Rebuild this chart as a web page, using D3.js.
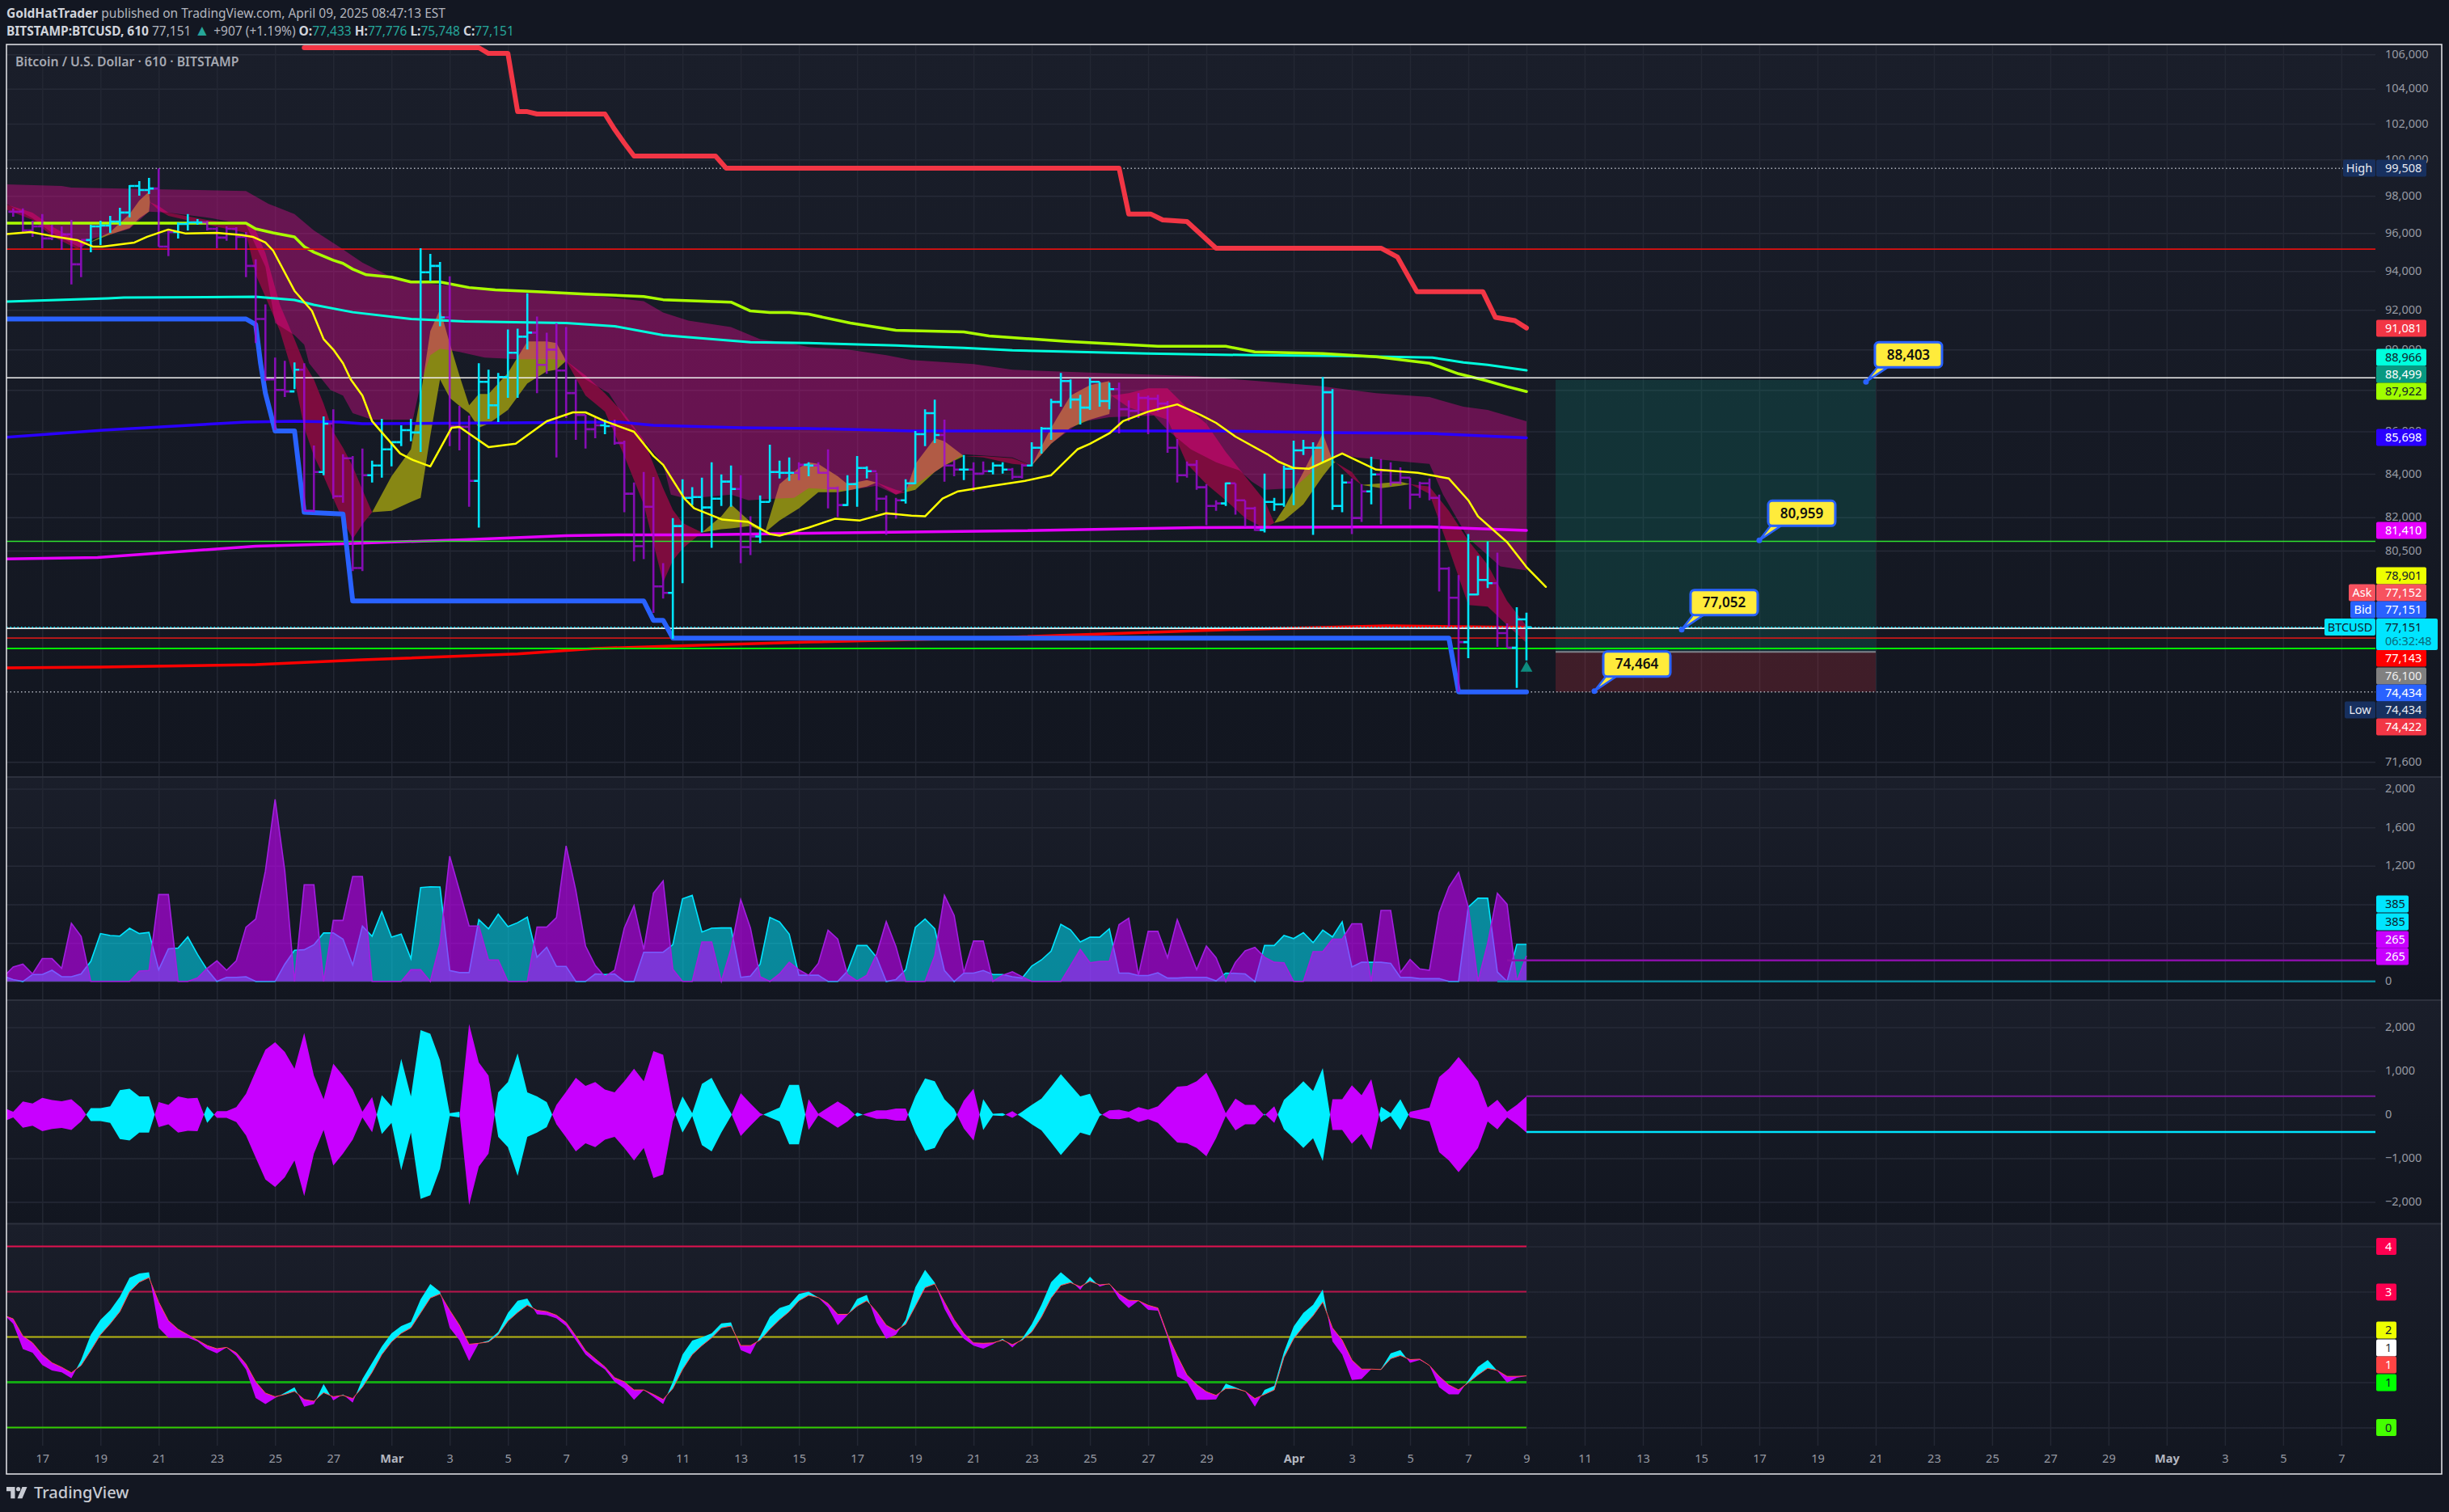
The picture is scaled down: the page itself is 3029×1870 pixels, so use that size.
<!DOCTYPE html>
<html>
<head>
<meta charset="utf-8">
<title>BTCUSD 610</title>
<script src="https://d3js.org/d3.v7.min.js"></script>
<style>
html, body { margin: 0; background: #131722; overflow: hidden; }
svg { display: block; }
text { font-family: "Noto Sans", "Open Sans", sans-serif; }
</style>
</head>
<body>
<script>
// ---- data ----
const firstBar = -3
const barHigh = [
  97320,97320,96660,97015,96445,96360,96705,95630,96445,96660,
  96925,97360,98590,98810,98985,99508,96230,96575,97015,96750,
  96660,96315,96360,96315,96060,94610,92275,89595,89435,89355,
  89315,85335,86720,87065,84920,84840,85185,84620,86605,85490,
  86295,86605,95200,94905,94480,93725,87225,86760,89315,88995,
  88835,91005,91045,92850,91655,90845,91330,91125,88520,86795,
  86680,86565,86565,85565,83600,84090,83855,79945,81970,83750,
  83380,83825,84540,83975,84390,83940,82045,83000,85375,84620,
  84765,84540,84540,84540,85150,83415,83940,84840,84350,84050,
  83000,82890,83750,86025,87065,87535,86565,84650,84880,84540,
  84580,84540,84540,84275,84465,85490,86220,87575,88835,88520,
  87770,88600,88400,88360,88360,87495,87850,87730,87770,87460,
  85640,84580,84650,83525,82780,83600,83560,82780,82485,84010,
  82890,84390,85565,85600,85490,88635,88045,83975,83785,83525,
  84800,84690,84540,84310,83825,83640,83785,83040,79770,79415,
  81245,80265,80915,80410,77315,78010,77776]
const barLow = [
  96880,96060,95800,95200,95630,95115,93310,93685,94990,95370,
  96015,96405,96840,98015,98100,95285,94780,95715,96145,96445,
  96145,95200,95590,95115,93685,90320,88440,86065,87655,88045,
  82300,82230,83940,82855,82670,79590,79590,83600,83825,84350,
  85300,85530,85030,93475,91170,85300,85105,82485,81535,86605,
  86450,87615,87615,89995,87850,88795,84765,86640,85600,85185,
  85680,85870,85375,82230,80020,80125,77765,78390,76660,79060,
  82560,81315,80625,82520,82485,79945,80300,80845,82705,83785,
  83675,83710,83895,84010,82410,82010,82520,82485,83785,82300,
  81205,81935,82635,83525,85300,85450,83640,83895,83710,83190,
  83975,83975,84010,83750,83785,84350,84955,85600,87185,87105,
  86335,87030,87185,87065,85910,86490,86640,85870,86950,84990,
  83600,83825,83265,81645,82300,82520,82120,81570,81390,81315,
  82300,82485,82560,84880,81205,84540,82340,82230,81245,81790,
  82595,81680,83450,83525,82375,82890,82780,78700,77175,74434,
  75840,78530,78850,76315,76280,74600,75748]
const barClose = [
  97145,96145,96360,95715,95800,95930,94355,95630,96360,96400,
  96620,97100,98545,98320,98405,95285,96060,96490,96575,96575,
  96230,95760,96230,95800,94270,91535,88520,88005,87930,88995,
  82300,84090,86370,82965,84730,79730,83940,84390,85150,85490,
  86065,85950,93935,94270,91615,86255,86220,83675,88400,87260,
  88635,89835,90640,90845,89235,89995,88955,87850,86795,86105,
  86295,86255,85450,83080,80700,82485,78920,78635,81605,82890,
  82930,82450,82855,83640,83300,80660,81135,82705,84090,84050,
  84050,84425,84390,84050,83340,82560,83525,84275,84125,82855,
  82155,82780,83560,85870,86875,85830,84390,84200,84200,84010,
  84125,84390,84200,83860,84390,85225,86140,87420,88440,87535,
  87145,88400,87460,88045,87065,86990,87615,87575,87340,85225,
  83940,84425,83380,82520,82635,83560,82780,82410,81425,82705,
  82595,84240,85105,85225,85225,87890,82520,83600,81970,83190,
  83975,84160,83600,83825,83040,83560,82890,79700,78425,76520,
  78565,79200,79060,76900,76280,77490,77151]
const upBars = [5,6,7,8,9,10,11,14,15,16,26,29,34,35,36,37,38,39,40,41,45,46,47,48,49,50,58,
  65,66,67,68,69,70,71,74,75,76,77,79,83,84,85,89,90,91,92,95,98,99,
  102,103,104,105,106,107,108,109,110,122,126,127,128,129,130,131,132,133,134,137,147,148,149,152,153]

// stepped stops
const stopRedBars = [27,45,46,48,49,50,51,58,59,60,61,69.4,70.5,111,112,114.3,115.5,118,121,138,139.7,141.7,148.5,149.8,151.8,153]
const stopRedValues = [106395,106395,106060,106060,102690,102690,102555,102555,101680,100910,100190,100190,99520,99520,97015,97015,96705,96620,95200,95200,94735,92935,92935,91615,91450,91081]
const stopBlueBars = [-4,21,22,22.5,23,24,26,27,31,32,62,63,64,65,145,146,153]
const stopBlueValues = [91535,91535,91250,89315,87850,86025,86025,82230,82150,78285,78285,77450,77450,76690,76690,74434,74434]

// moving averages
const limeBars = [-4,21,22,23.8,26,27,28,29,30,31,32,33.4,36,38,41,44,46.7,51,56,62,64,71,73,75,77,79,83.3,88,95,97.6,105.6,115,122,125,132,137.5,143,146,148.7,151,153]
const limeValues = [96530,96530,96230,96015,95800,95285,94990,94780,94565,94400,94100,93810,93685,93435,93435,93145,93020,92935,92810,92685,92520,92395,91945,91860,91860,91780,91330,90965,90885,90680,90400,90160,90160,89875,89795,89635,89315,88795,88480,88165,87922]
const tealBars = [-4,6.8,8.4,22,26,28,32,38,43.5,54,59,64,73,79,88,90,95,100,114,125,134,143.3,146.5,149,153]
const tealValues = [92420,92590,92630,92670,92505,92255,91880,91535,91410,91330,91170,90720,90360,90320,90200,90160,90080,89955,89795,89715,89675,89595,89355,89235,88966]
const indigoBars = [-4,6.3,21,26,30.7,33,59.5,63,72,79,89.6,111,121.5,132,143,153]
const indigoValues = [85715,86065,86450,86490,86450,86370,86450,86295,86180,86140,86025,86025,86025,85950,85910,85698]
const magentaBars = [-4,5.7,22,31,43.5,54,59.5,67.5,79,100,119,143,153]
const magentaValues = [80125,80195,80700,80810,80990,81170,81205,81205,81280,81390,81535,81570,81410]
const redMaBars = [-4,6,22,33,49,57,65,79,100,121,138.6,153]
const redMaValues = [75430,75465,75570,75775,76015,76250,76350,76520,76730,77035,77210,77143]
const yellowBars = [-4,-1.2,1,3.6,5.2,6.2,9.5,10.8,13,14.8,18,20.6,21.7,23,23.8,26,27.8,29,30,31,31.8,33,34,35.3,36.9,38.2,40,42.2,43,46,48.8,52,54.7,56,58,61,63,64,66.2,67.2,70.1,72.8,75,76,79,
  81.7,84.3,87,89.6,91,92.8,94.4,98,101.3,104,106.7,108,110,111.4,114,117,119.4,121,123,126.3,127.4,129,130.6,134,135.4,137.5,141.8,145,147,148,151,153,155]
const yellowValues = [95930,96060,95845,95630,95285,95285,95500,95800,96190,95975,96015,95890,95800,95500,95070,92975,91945,90520,89995,89315,88520,87730,86490,85795,84955,84650,84350,86180,86220,85260,85415,86490,86915,86915,86490,85985,84840,84425,82855,82410,81900,81790,81245,81170,81535,
  81935,81860,82190,82080,82045,82855,83190,83450,83675,83940,85150,85415,85910,86490,86950,87300,86795,86410,85755,84920,84580,84275,84240,84955,84650,84200,84050,83785,82780,82045,80880,79770,78901]

// wide band
const bandTopBars = [-4,2,3,21,23.3,26,28,30.7,33,36,38,44,54,62,64,66.6,71,74,77,79,83,87,89.6,96,100,109,119,131.6,137.5,143,146.5,149,153]
const bandTopValues = [98630,98540,98450,98270,97580,97015,96145,95245,94440,93685,93435,93145,92895,92440,91860,91450,91125,90520,90320,90120,89995,89715,89475,89275,88995,88835,88675,88205,87850,87655,87185,87030,86490]
const bandLowBars = [-4,-1,1,4,5.2,7,9,11,13,17.5,21,23,24,26,27,27.5,29.7,31,32,34,38.2,39,40,41,43,45.6,49,53,54,56,58.4,60,62,64,64.8,66.4,71,72.8,75.4,77.5,79,83,86,88,90,91,93,95,100,102,104,107,110,114.6,116,118.4,121,123.4,124.7,126,129,132,133,134,135.4,143,144.4,147,150.3,153]
const bandLowValues = [97665,96795,96015,95200,95715,95930,96230,97145,97100,96795,96445,94230,91330,90720,90240,89315,88005,87730,86875,86565,86565,88285,89715,90035,89875,89595,89515,89515,89435,88520,87850,86680,85530,84465,83040,82855,83040,82780,82855,82890,83340,83225,83450,83040,83525,83785,84390,84920,84765,84390,85415,86450,86680,86760,86065,85150,84540,84160,83640,83265,83340,84540,84765,84920,84765,84465,83040,81060,79800,79625]

// thin ribbon, two averages with the crossings
const ribbonBars = [-4,-1,1,3.6,4.5,7,9,10,11,11.1,12,13,17,21,22,23,24.5,26,27,28,29,30,31,32,33,34,36,38,39,40,41,42,43,44,45,46,48,50,52,53,54,56,58,60,62,64,65,66,68,70,71,73,74.5,76,78,79,80,82,83,85,86,88,89,90,92,93,95,97,100,102,104,106,108,110,110.2,112,114,116,118,120,122,124,126,127,128,130,132,133,133.3,135,136,138,140,141,143,145,147,149,151,153]
const ribbonFast = [97320,96705,95845,95155,95415,96060,97015,97750,98230,97665,97230,96925,96445,96015,93810,92670,90925,88520,86180,84840,83895,82855,81860,81025,81680,82230,83895,85150,87730,90925,92030,90320,88715,87260,87810,87810,88835,90400,90400,90320,89435,87730,86950,84840,82595,79095,80055,80590,81315,82045,82595,81790,81315,83525,84275,84540,84465,83895,83525,83710,83600,83040,83150,84465,85680,85530,84840,84765,84465,84390,86180,87730,88245,88440,87730,87145,86875,86565,84465,83525,82780,81970,81500,81750,82410,84090,85910,84650,84540,83825,83490,83560,83640,83525,83080,80590,78110,78040,77245,76490]
const ribbonSlow = [97580,97100,96360,95590,95415,95930,96275,96795,97145,97665,97450,97100,96705,96490,96145,94950,92255,90520,89315,88520,87340,85985,85225,84350,83265,82230,82300,82705,82890,85795,88520,87615,87225,86875,86180,86370,87030,88320,88915,88995,89435,88715,87850,86835,85600,83340,82340,81750,81315,81460,81500,81605,81315,81860,82410,82780,83150,83150,83225,83415,83600,83265,83150,83265,84090,84390,84840,84840,84730,84390,85415,86180,86565,86835,87730,87850,88085,88085,87145,86370,85030,83895,82780,81750,81860,82595,83895,84465,84540,84090,83490,83340,83450,83525,83415,82300,80955,79875,78285,77210]

// second pane, one value per bar from bar -4
const volPurple = [49,150,179,78,237,237,136,604,468,0,0,0,0,0,107,113,902,902,0,0,35,136,214,116,214,564,647,1147,1890,1147,0,1003,1003,0,633,633,1090,1090,0,0,0,0,121,121,0,396,1300,945,575,575,223,223,0,0,0,564,564,662,1407,945,367,165,49,116,555,786,332,916,1043,127,0,0,410,410,0,338,850,555,49,0,78,199,121,64,188,532,439,72,6,64,280,621,361,0,0,0,266,893,685,92,419,419,0,64,101,49,0,0,0,0,165,332,194,208,208,590,656,64,520,520,246,642,381,121,367,246,0,199,318,353,251,199,194,0,0,309,309,439,439,598,598,0,737,737,92,228,130,116,714,980,1133,772,0,396,916,801,0,265]
const volCyan = [55,20,0,72,72,116,49,49,78,208,497,477,471,552,497,509,121,338,347,462,280,121,0,43,43,49,0,0,0,179,324,329,381,503,503,439,171,575,468,722,459,491,237,974,983,980,113,92,92,642,546,699,569,610,668,251,355,156,156,0,0,78,72,78,0,0,303,303,303,381,858,893,512,552,555,555,43,55,179,665,618,491,64,64,64,0,0,107,373,373,251,0,20,121,561,647,546,113,0,87,87,113,72,72,49,35,159,223,315,592,535,410,459,459,546,87,87,61,61,90,35,35,43,43,43,6,87,84,78,0,373,373,477,445,506,402,532,462,618,150,199,199,199,188,43,43,29,29,29,0,0,772,864,864,98,0,385,385]

// third pane, signed width per bar from bar -4
const spread = [159,64,300,255,383,332,306,351,159,-147,-147,-191,-561,-593,-415,-415,287,223,415,370,383,-191,77,77,172,478,989,1486,1658,1435,1052,1869,893,351,1167,893,574,64,402,-446,-191,-1276,-415,-1933,-1850,-1244,-32,-64,2073,1193,893,-510,-746,-1403,-510,-415,-287,223,523,842,657,746,574,510,765,1052,765,1454,1371,159,-415,-32,-702,-842,-415,-32,491,255,32,-64,-159,-682,-682,351,19,159,300,159,-45,32,96,96,140,140,-415,-829,-765,-351,-128,319,593,-351,-19,-32,77,-64,-223,-364,-638,-925,-670,-415,-478,-32,96,108,64,172,108,191,415,638,657,765,957,542,32,364,223,223,-19,191,-338,-542,-765,-542,-1065,351,351,670,446,810,-179,-32,-351,64,108,159,861,1052,1320,1052,765,159,338,64,223,415]

// fourth pane, two lines per bar from bar -4
const oscFast = [2.50,2.29,1.73,1.65,1.38,1.26,1.22,1.09,1.49,2.05,2.38,2.59,2.89,3.31,3.40,3.43,2.20,1.98,1.98,1.98,1.90,1.73,1.64,1.77,1.58,1.28,.65,.52,.65,.77,.89,.46,.52,.96,.60,.73,.55,1.07,1.43,1.79,2.08,2.24,2.33,2.83,3.17,3.00,2.20,1.93,1.47,1.86,1.92,2.11,2.53,2.80,2.85,2.50,2.48,2.41,2.24,1.93,1.61,1.43,1.28,1.01,.86,.61,.83,.68,.52,1.01,1.61,1.92,1.99,2.08,2.30,2.32,1.71,1.62,2.02,2.44,2.64,2.71,2.95,3.00,2.87,2.65,2.26,2.48,2.84,2.93,2.32,1.96,2.05,2.38,3.10,3.48,3.20,2.62,2.23,1.96,1.81,1.74,1.84,1.96,1.77,1.96,2.28,2.71,3.21,3.43,3.25,3.04,3.33,3.11,3.18,2.84,2.64,2.80,2.60,2.58,1.99,1.13,1.01,.61,.61,.62,.97,.89,.80,.46,.83,.92,1.67,2.23,2.53,2.71,3.05,1.90,1.61,1.05,1.07,1.29,1.29,1.64,1.71,1.43,1.49,1.37,.89,.73,.73,1.04,1.34,1.49,1.25,.99,1.10,1.14]
const oscSlow = [2.48,2.40,2.02,1.87,1.61,1.43,1.33,1.21,1.37,1.70,2.05,2.29,2.56,3.00,3.21,3.31,2.77,2.36,2.17,2.05,1.93,1.81,1.74,1.77,1.65,1.40,1.01,.76,.68,.73,.80,.62,.58,.77,.68,.71,.64,.89,1.22,1.61,1.89,2.08,2.20,2.53,2.86,2.95,2.59,2.26,1.84,1.86,1.89,2.05,2.35,2.54,2.70,2.59,2.56,2.48,2.32,2.02,1.70,1.52,1.34,1.10,1.01,.83,.83,.73,.62,.86,1.28,1.61,1.81,1.98,2.20,2.24,1.81,1.81,1.93,2.17,2.38,2.56,2.80,2.92,2.87,2.74,2.50,2.50,2.68,2.80,2.56,2.26,2.14,2.28,2.68,3.09,3.17,2.77,2.38,2.08,1.87,1.86,1.87,1.93,1.83,1.93,2.11,2.44,2.86,3.14,3.20,3.11,3.23,3.15,3.17,2.95,2.81,2.80,2.70,2.64,2.05,1.58,1.16,.95,.79,.71,.86,.86,.80,.64,.73,.83,1.55,1.96,2.23,2.47,2.77,2.20,1.93,1.49,1.29,1.29,1.28,1.52,1.59,1.50,1.51,1.37,1.13,.94,.83,.99,1.16,1.31,1.26,1.13,1.13,1.14]

// axis ticks
const priceTicks = [106000,104000,102000,100000,98000,96000,94000,92000,90000,88000,86000,84000,82000,80500,71600]
const volTicks = [2000,1600,1200,800,400,0]
const spreadTicks = [2000,1000,0,-1000,-2000]
const oscTicks = [4,3,2,1,0]
const timeTicks = ["02-17","02-19","02-21","02-23","02-25","02-27","03-01","03-03","03-05","03-07","03-09","03-11","03-13","03-15","03-17","03-19","03-21","03-23","03-25","03-27","03-29",
  "04-01","04-03","04-05","04-07","04-09","04-11","04-13","04-15","04-17","04-19","04-21","04-23","04-25","04-27","04-29","05-01","05-03","05-05","05-07"]
const monthNames = {3: "Mar", 4: "Apr", 5: "May"}

// levels and drawing tool
const levelValues = [95150,88600,80915,77105,76690,76250]
const levelColors = ["#e01010","#f0f0f0","#2fe22f","#f0f0f0","#c81818","#00f000"]
const highPrice = 99508
const lowPrice = 74434
const lastPrice = 77151
const riskTop = 88499
const riskEntry = 76100
const riskStop = 74434
const riskFrom = "2025-04-10"
const riskTo = "2025-04-21"
const calloutValues = [88403,80959,77052,74464]
const calloutBars = [188,177,169,160]

// price scale tags
const tagTexts = ["99,508","91,081","88,966","88,499","87,922","85,698","81,410","78,901","77,152","77,151","77,143","76,100","74,434","74,434","74,422"]
const tagFills = ["#17305f","#f23645","#00ffdd","#089981","#a0ff00","#2a00ff","#e600ff","#eeff00","#f7525f","#2962ff","#ff0000","#808080","#2962ff","#17305f","#f23645"]
const tagInks = ["#e8eaf0","#fff","#10202a","#fff","#10202a","#fff","#fff","#10202a","#fff","#fff","#fff","#eee","#fff","#e8eaf0","#fff"]
const tagNames = ["High","","","","","","","","Ask","Bid","","","","Low",""]
const volTagTexts = ["385","385","265","265"]
const volTagFills = ["#00e5ff","#00e5ff","#c800ff","#c800ff"]
const oscTagTexts = ["4","3","2","1","1","1","0"]
const oscTagFills = ["#ff0050","#ff0050","#eeff00","#ffffff","#ff4444","#00ff00","#44ff00"]
const oscTagInks = ["#fff","#fff","#10202a","#333","#fff","#10202a","#10202a"]

// ---- layout ----
const W = 3029, H = 1870
const left = 8, right = 2938, frameRight = 3020, frameTop = 55, frameBottom = 1823
const gridBottom = 1788
const axisText = "#979aa3"
const labelSize = 14.5
// stacked rows the tags sit on, they get pushed apart from their true price
const tagRows = [208,406,442,463,484,541,656,712,733,754,814,836,857,878,899]
const volTagRows = [1118,1140,1162,1183]
const oscTagRows = [1541.5,1598,1645,1667,1688,1710,1765.5]

const svg = d3.select("body").append("svg").attr("width", W).attr("height", H)
const defs = svg.append("defs")

const grad = defs.append("linearGradient").attr("id", "paneBg").attr("x1", 0).attr("x2", 0).attr("y1", 0).attr("y2", 1)
grad.append("stop").attr("offset", "0%").attr("stop-color", "#1a1e2a")
grad.append("stop").attr("offset", "100%").attr("stop-color", "#121620")

function clip(id, y0, y1) {
    defs.append("clipPath").attr("id", id).append("rect")
        .attr("x", left).attr("y", y0).attr("width", right - left).attr("height", y1 - y0)
    return svg.append("g").attr("clip-path", `url(#${id})`)
}

// scales
const t0 = Date.UTC(2025, 1, 17)
const xTime = d3.scaleUtc().domain([new Date(t0), new Date(Date.UTC(2025, 3, 9))]).range([52.3, 1888])
const xBar = i => xTime(new Date(t0 + i * 8 * 3600e3))
const yPrice = d3.scaleLog().domain([71600, 106000]).range([942.3, 67.3])
const yVol = d3.scaleLinear().domain([0, 2000]).range([1213.8, 975.5])
const ySpread = d3.scaleLinear().domain([-2000, 2000]).range([1486.4, 1270.5])
const yOsc = d3.scaleLinear().domain([0, 4]).range([1765.5, 1541.5])

// ---- backgrounds ----
svg.append("rect").attr("width", W).attr("height", H).attr("fill", "#131722")
const paneEdges = [frameTop, 961, 1237, 1513.5, frameBottom]
d3.pairs(paneEdges).forEach(([a, b]) => {
    svg.append("rect").attr("x", left).attr("y", a).attr("width", frameRight - left).attr("height", b - a).attr("fill", "url(#paneBg)")
})

// ---- grid ----
const gridColor = "#262a37"
function hGrid(scale, ticks) {
    const g = svg.append("g").attr("transform", `translate(${right},0)`)
        .call(d3.axisLeft(scale).tickValues(ticks).tickSize(right - left).tickFormat(""))
    g.select(".domain").remove()
    g.selectAll("line").attr("stroke", gridColor).attr("stroke-width", 1.5)
}
hGrid(yPrice, priceTicks)
hGrid(yVol, volTicks)
hGrid(ySpread, spreadTicks)
hGrid(yOsc, oscTicks)

const timeDates = timeTicks.map(s => new Date("2025-" + s + "T00:00:00Z"))
const gTime = svg.append("g").attr("transform", `translate(0,${gridBottom})`)
    .call(d3.axisBottom(xTime).tickValues(timeDates).tickSize(frameTop - gridBottom).tickPadding(11)
        .tickFormat(d => d.getUTCDate() === 1 ? monthNames[d.getUTCMonth() + 1] : d.getUTCDate()))
gTime.select(".domain").remove()
gTime.selectAll("line").attr("stroke", "#232733").attr("stroke-width", 1.5)
gTime.selectAll("text").attr("y", 11).attr("fill", d => d.getUTCDate() === 1 ? "#b4b7c0" : axisText)
    .attr("font-size", labelSize).attr("font-weight", d => d.getUTCDate() === 1 ? 700 : 400)
    .style("font-family", '"Noto Sans", sans-serif')

paneEdges.slice(1, 4).forEach(y => {
    svg.append("line").attr("x1", left).attr("x2", frameRight).attr("y1", y).attr("y2", y).attr("stroke", "#2c303c").attr("stroke-width", 2)
})

// ---- helper: fill between two series, colour flips at each crossing ----
function crossingRuns(bars, a, b) {
    const runs = []
    let run = null
    const push = (up, p, q) => {
        if (!run || run.up !== up) {
            run = {up, pts: [p]}
            runs.push(run)
        }
        run.pts.push(q)
    }
    d3.pairs(bars.map((x, k) => ({x, a: a[k], b: b[k]}))).forEach(([p, q]) => {
        const d0 = p.a - p.b, d1 = q.a - q.b
        if (d0 * d1 < 0) {
            const t = d0 / (d0 - d1)
            const m = {x: p.x + t * (q.x - p.x), a: p.a + t * (q.a - p.a), b: p.a + t * (q.a - p.a)}
            push(d0 > 0, p, m)
            push(d1 > 0, m, q)
        } else if (d0 !== 0 || d1 !== 0) {
            push(d0 + d1 > 0, p, q)
        }
    })
    return runs
}
function fillBetween(g, bars, a, b, scale, upColor, downColor) {
    const area = d3.area().x(d => xBar(d.x)).y0(d => scale(d.a)).y1(d => scale(d.b))
    g.append("g").selectAll("path").data(crossingRuns(bars, a, b)).join("path")
        .attr("d", d => area(d.pts))
        .attr("fill", d => d.up ? upColor : downColor)
}

// ---- main pane ----
const gMain = clip("clipMain", frameTop, paneEdges[1])

// drawing tool, under the lines
const riskX0 = xTime(new Date(riskFrom)), riskX1 = xTime(new Date(riskTo))
gMain.append("rect").attr("x", riskX0).attr("width", riskX1 - riskX0)
    .attr("y", yPrice(riskTop)).attr("height", yPrice(riskEntry) - yPrice(riskTop)).attr("fill", "rgba(8,153,129,0.2)")
gMain.append("rect").attr("x", riskX0).attr("width", riskX1 - riskX0)
    .attr("y", yPrice(riskEntry)).attr("height", yPrice(riskStop) - yPrice(riskEntry)).attr("fill", "rgba(242,54,69,0.2)")
gMain.append("line").attr("x1", riskX0).attr("x2", riskX1).attr("y1", yPrice(riskEntry)).attr("y2", yPrice(riskEntry))
    .attr("stroke", "#80838c").attr("stroke-width", 2)

// ribbon sits under the band, the band tints it to orange and bright crimson
fillBetween(gMain, ribbonBars, ribbonFast, ribbonSlow, yPrice, "#878714", "#7d0c3e")

const bandJoined = d3.merge([
    bandTopBars.map((b, k) => [b, bandTopValues[k]]),
    bandLowBars.map((b, k) => [b, bandLowValues[k]]).reverse()
])
gMain.append("path").attr("d", d3.line().x(d => xBar(d[0])).y(d => yPrice(d[1]))(bandJoined) + "Z")
    .attr("fill", "rgba(255,9,160,0.35)")

function lineOf(bars, values, color, width, join) {
    const line = d3.line().x(d => xBar(d[0])).y(d => yPrice(d[1]))
    gMain.append("path").attr("d", line(bars.map((b, k) => [b, values[k]])))
        .attr("fill", "none").attr("stroke", color).attr("stroke-width", width)
        .attr("stroke-linejoin", join || "round").attr("stroke-linecap", "round")
}
lineOf(redMaBars, redMaValues, "#ff0000", 3.5)
lineOf(magentaBars, magentaValues, "#e600ff", 3.5)
lineOf(indigoBars, indigoValues, "#2a00ff", 3.5)
lineOf(tealBars, tealValues, "#00ffdd", 3)
lineOf(limeBars, limeValues, "#aaff00", 3.5)

// levels
levelValues.forEach((v, k) => {
    gMain.append("line").attr("x1", left).attr("x2", right).attr("y1", yPrice(v)).attr("y2", yPrice(v))
        .attr("stroke", levelColors[k]).attr("stroke-width", k === 5 ? 2 : 1.6)
})
const dotted = (v, x1, color) => gMain.append("line").attr("x1", left).attr("x2", x1).attr("y1", yPrice(v)).attr("y2", yPrice(v))
    .attr("stroke", color).attr("stroke-width", 1.4).attr("stroke-dasharray", "1.5 3")
dotted(highPrice, 2898, "#aeb2bb")
dotted(lowPrice, 2938, "#aeb2bb")
dotted(lastPrice, 2875, "#00e5ff")

lineOf(stopRedBars, stopRedValues, "#f23645", 6)
lineOf(stopBlueBars, stopBlueValues, "#2962ff", 6)

// bars
const bars = barHigh.map((h, k) => ({
    i: firstBar + k, h, l: barLow[k], c: barClose[k],
    o: k ? barClose[k - 1] : barClose[k],
    up: upBars.includes(firstBar + k)
}))
gMain.append("g").selectAll("path").data(bars).join("path")
    .attr("d", d => {
        const x = xBar(d.i)
        return `M${x},${yPrice(d.h)}V${yPrice(d.l)}M${x - 6},${yPrice(d.o)}H${x}M${x},${yPrice(d.c)}H${x + 6}`
    })
    .attr("fill", "none").attr("stroke-width", 2.6)
    .attr("stroke", d => d.up ? "#00e5ff" : "rgba(160,10,215,0.8)")

lineOf(yellowBars, yellowValues, "#ffff00", 2.5)

// small marker under the last bar
gMain.append("path").attr("d", d3.symbol(d3.symbolTriangle, 95)())
    .attr("transform", `translate(${xBar(153)},${yPrice(75420)})`).attr("fill", "#0e8c7f")

// callouts
calloutValues.forEach((v, k) => {
    const dx = xBar(calloutBars[k]), dy = yPrice(v)
    const bx = dx + 11, by = dy - 49, bw = 83, bh = 31
    const g = gMain.append("g")
    g.append("path").attr("d", `M${bx + 16},${by + bh}L${dx},${dy}L${bx + 3},${by + bh}Z`)
        .attr("fill", "#ffeb3b").attr("stroke", "#2962ff").attr("stroke-width", 2.5).attr("stroke-linejoin", "round")
    g.append("circle").attr("cx", dx).attr("cy", dy).attr("r", 3.5).attr("fill", "#2962ff")
    g.append("rect").attr("x", bx).attr("y", by).attr("width", bw).attr("height", bh).attr("rx", 5)
        .attr("fill", "#ffeb3b").attr("stroke", "#2962ff").attr("stroke-width", 3)
    g.append("text").attr("x", bx + bw / 2).attr("y", by + bh / 2 + 6).attr("text-anchor", "middle")
        .attr("font-size", 17).attr("font-weight", 600).attr("fill", "#111").text(d3.format(",")(v))
})

gMain.append("text").attr("x", 19).attr("y", 82).attr("font-size", 15.8).attr("font-weight", 600).attr("fill", "#a6a9b2")
    .text("Bitcoin / U.S. Dollar · 610 · BITSTAMP")

// ---- pane 2 ----
const allBars = volPurple.map((_, k) => k - 4)
const gVol = clip("clipVol", paneEdges[1], paneEdges[2])
const volArea = d3.area().x((d, k) => xBar(allBars[k])).y0(yVol(0)).y1(d => yVol(d))
const volLine = d3.line().x((d, k) => xBar(allBars[k])).y(d => yVol(d))
gVol.append("path").attr("d", volArea(volCyan)).attr("fill", "rgba(0,229,255,0.55)")
gVol.append("path").attr("d", volLine(volCyan)).attr("fill", "none").attr("stroke", "#00e5ff").attr("stroke-width", 1.6)
gVol.append("path").attr("d", volArea(volPurple)).attr("fill", "rgba(200,0,255,0.6)")
gVol.append("path").attr("d", volLine(volPurple)).attr("fill", "none").attr("stroke", "#a21fe0").attr("stroke-width", 1.6)
gVol.append("line").attr("x1", xBar(151)).attr("x2", right).attr("y1", yVol(218)).attr("y2", yVol(218)).attr("stroke", "#8a10a8").attr("stroke-width", 2.5)
gVol.append("line").attr("x1", xBar(150)).attr("x2", right).attr("y1", yVol(0)).attr("y2", yVol(0)).attr("stroke", "#0a8ea0").attr("stroke-width", 2.5)

// ---- pane 3 ----
const gSpread = clip("clipSpread", paneEdges[2], paneEdges[3])
fillBetween(gSpread, allBars, spread, spread.map(v => -v), ySpread, "#c800ff", "#00eeff")
gSpread.append("line").attr("x1", xBar(153)).attr("x2", right).attr("y1", ySpread(420)).attr("y2", ySpread(420)).attr("stroke", "#7a1a9a").attr("stroke-width", 2)
gSpread.append("line").attr("x1", xBar(153)).attr("x2", right).attr("y1", ySpread(-398)).attr("y2", ySpread(-398)).attr("stroke", "#00e5ff").attr("stroke-width", 2.5)

// ---- pane 4 ----
const gOsc = clip("clipOsc", paneEdges[3], gridBottom)
const oscColors = {4: "#e0104f", 3: "#b8154a", 2: "#b5b510", 1: "#12a812", 0: "#33cc00"}
oscTicks.forEach(v => {
    gOsc.append("line").attr("x1", left).attr("x2", xBar(153)).attr("y1", yOsc(v)).attr("y2", yOsc(v))
        .attr("stroke", oscColors[v]).attr("stroke-width", v === 1 ? 3 : 2.2)
})
fillBetween(gOsc, allBars, oscFast, oscSlow, yOsc, "#00eeff", "#c800ff")
gOsc.append("path").attr("d", d3.line().x((d, k) => xBar(allBars[k])).y(d => yOsc(d))(oscSlow))
    .attr("fill", "none").attr("stroke", "#ff4d4d").attr("stroke-width", 1)

// ---- frame ----
svg.append("rect").attr("x", left).attr("y", frameTop).attr("width", frameRight - left).attr("height", frameBottom - frameTop)
    .attr("fill", "none").attr("stroke", "#e8e8ec").attr("stroke-width", 1.5)

// ---- value axes ----
function valueAxis(scale, ticks) {
    const g = svg.append("g").attr("transform", `translate(${right},0)`)
        .call(d3.axisRight(scale).tickValues(ticks).tickSize(0).tickPadding(12).tickFormat(d3.format(",")))
    g.select(".domain").remove()
    g.selectAll("text").attr("fill", axisText).attr("font-size", labelSize).attr("dy", "0.28em")
        .style("font-family", '"Noto Sans", sans-serif')
}
valueAxis(yPrice, priceTicks)
valueAxis(yVol, volTicks)
valueAxis(ySpread, spreadTicks)

function tag(y, w, fill, ink, text) {
    svg.append("rect").attr("x", right + 1).attr("y", y - 10.5).attr("width", w).attr("height", 21).attr("rx", 2).attr("fill", fill)
    svg.append("text").attr("x", right + 12).attr("y", y + 5).attr("font-size", labelSize).attr("fill", ink).text(text)
}
function sideTag(y, x0, fill, ink, text) {
    svg.append("rect").attr("x", x0).attr("y", y - 10.5).attr("width", right - x0).attr("height", 21).attr("rx", 2).attr("fill", fill)
    svg.append("text").attr("x", (x0 + right) / 2).attr("y", y + 5).attr("text-anchor", "middle").attr("font-size", labelSize).attr("fill", ink).text(text)
}
const sideStarts = {High: 2898, Ask: 2905, Bid: 2907, Low: 2900}
tagTexts.forEach((t, k) => {
    tag(tagRows[k], 62, tagFills[k], tagInks[k], t)
    if (tagNames[k]) sideTag(tagRows[k], sideStarts[tagNames[k]], tagFills[k], tagInks[k], tagNames[k])
})

// last price with the countdown under it
svg.append("rect").attr("x", right + 1).attr("y", 765).attr("width", 76).attr("height", 39).attr("rx", 2).attr("fill", "#00e5ff")
svg.append("text").attr("x", right + 12).attr("y", 781).attr("font-size", labelSize).attr("fill", "#10202a").text("77,151")
svg.append("text").attr("x", right + 12).attr("y", 798).attr("font-size", labelSize).attr("fill", "#0a6a78").text("06:32:48")
sideTag(775.5, 2875, "#00e5ff", "#10202a", "BTCUSD")

volTagTexts.forEach((t, k) => tag(volTagRows[k], 40, volTagFills[k], volTagFills[k] === "#00e5ff" ? "#10202a" : "#fff", t))
oscTagTexts.forEach((t, k) => tag(oscTagRows[k], 25, oscTagFills[k], oscTagInks[k], t))

// ---- header ----
const head1 = svg.append("text").attr("x", 8).attr("y", 22).attr("font-size", 15.5).attr("fill", "#b2b5be")
head1.append("tspan").attr("font-weight", 700).attr("fill", "#d1d4dc").text("GoldHatTrader")
head1.append("tspan").text(" published on TradingView.com, April 09, 2025 08:47:13 EST")

const head2 = svg.append("text").attr("x", 8).attr("y", 44).attr("font-size", 15.5).attr("fill", "#b2b5be")
const headParts = [
    ["BITSTAMP:BTCUSD, 610 ", "#d1d4dc", 700, 15.5], ["77,151 ", "#b2b5be", 400, 15.5], ["▲ ", "#26a69a", 400, 19], ["+907 (+1.19%) ", "#b2b5be", 400, 15.5],
    ["O:", "#d1d4dc", 700, 15.5], ["77,433 ", "#26a69a", 400, 15.5], ["H:", "#d1d4dc", 700, 15.5], ["77,776 ", "#26a69a", 400, 15.5],
    ["L:", "#d1d4dc", 700, 15.5], ["75,748 ", "#26a69a", 400, 15.5], ["C:", "#d1d4dc", 700, 15.5], ["77,151", "#26a69a", 400, 15.5]
]
headParts.forEach(p => head2.append("tspan").attr("fill", p[1]).attr("font-weight", p[2]).attr("font-size", p[3]).text(p[0]))

// ---- logo ----
const logo = svg.append("g").attr("transform", "translate(8,1839) scale(0.75)").attr("fill", "#c8cbd3")
logo.append("path").attr("d", "M14 19H7V7H0V0h14v19zM26 19h-8L26 0h8l-8 19z")
logo.append("circle").attr("cx", 19.5).attr("cy", 3.5).attr("r", 3.5)
svg.append("text").attr("x", 42).attr("y", 1853).attr("font-size", 20).attr("font-weight", 500).attr("fill", "#c8cbd3").text("TradingView")
</script>
</body>
</html>
